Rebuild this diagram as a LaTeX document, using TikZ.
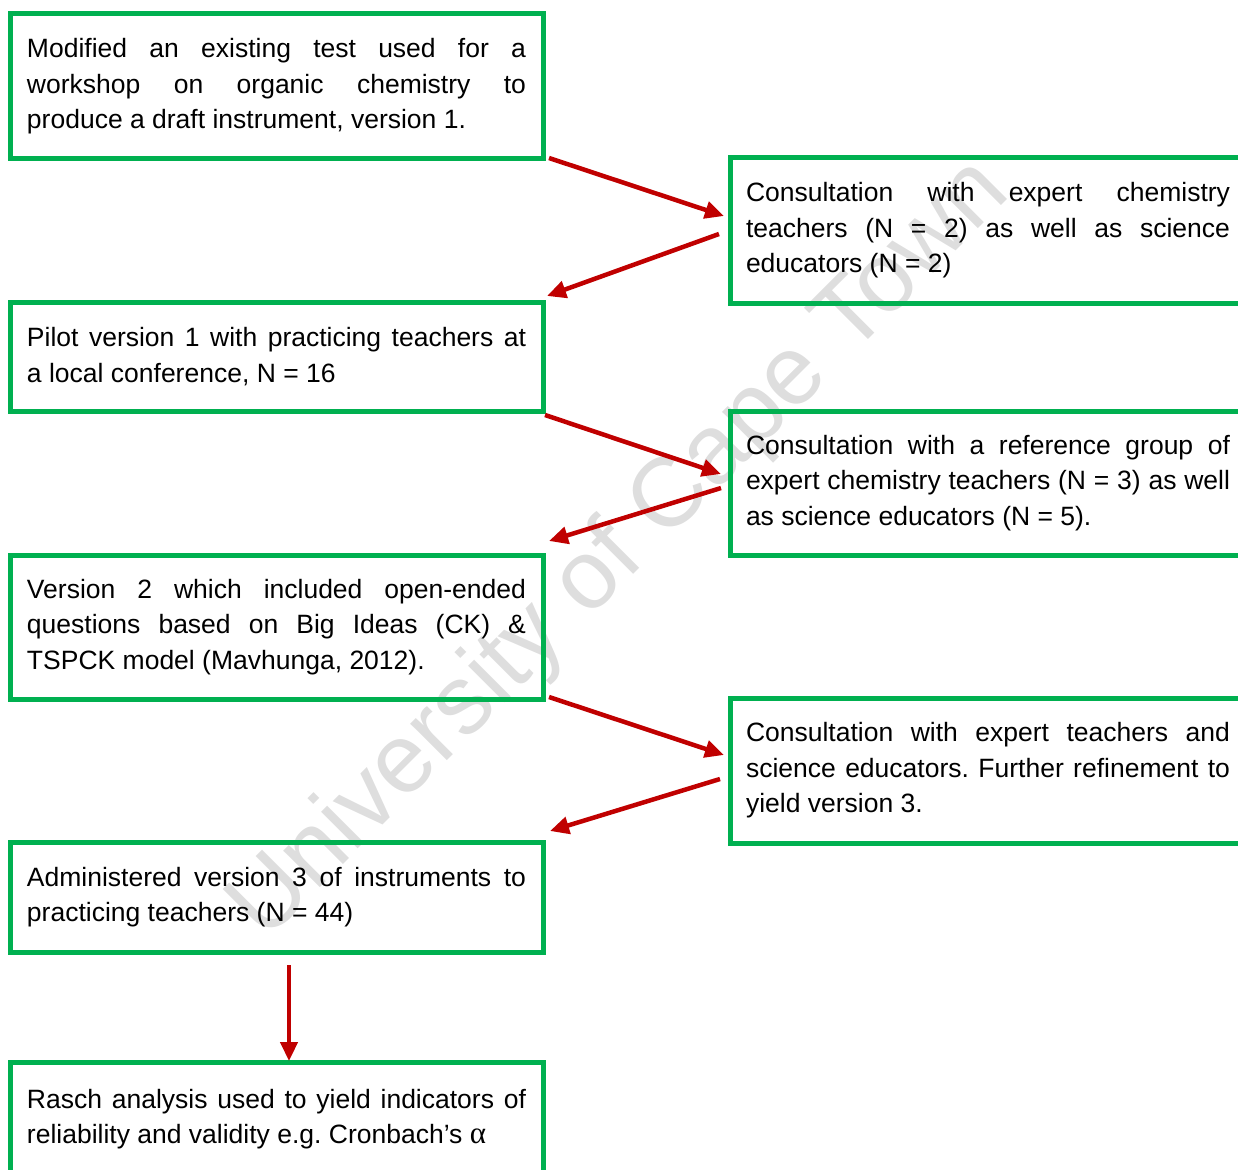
\documentclass[tikz,border=0pt]{standalone}
\usepackage{fontspec}
\setmainfont{Liberation Sans}
\newfontfamily\alphafont{Liberation Serif}
\usetikzlibrary{arrows.meta}

\definecolor{boxgreen}{RGB}{0,176,80}
\definecolor{arrowred}{RGB}{192,0,0}
\definecolor{markgray}{RGB}{222,222,222}

\newcommand\boxfont{\fontsize{26.5pt}{35.5pt}\selectfont}
\newcommand\markfont{\fontsize{98pt}{98pt}\selectfont}
\newcommand\alphasym{{\alphafont\fontsize{31pt}{35.5pt}\selectfont α}}

% justified text with forced line ends, no hyphenation
\tolerance=10000
\hbadness=10000
\hyphenpenalty=10000
\exhyphenpenalty=10000
\frenchspacing

\tikzset{
  box/.style={draw=boxgreen, line width=5pt, anchor=north west,
    inner xsep=17pt, inner ysep=0pt, outer sep=0pt,
    text width=499pt, align=justify, font=\boxfont},
  rbox/.style={box, inner xsep=16pt, text width=484pt},
  arr/.style={draw=arrowred, line width=4.5pt,
    -{Triangle[length=19pt,width=17pt]}},
  watermark/.style={text=markgray, font=\markfont, inner sep=0pt, rotate=45}
}

\begin{document}
\begin{tikzpicture}[x=1pt, y=-1pt]
\useasboundingbox (0,0) rectangle (1238,1169);
\clip (0,0) rectangle (1238,1169);

% background watermark
\node[watermark] (wm) at (621,551) {University of Cape Town};

% left column
\node[box, minimum height=145pt] (b1) at (10,14)
  {Modified an existing test used for a\linebreak workshop on organic chemistry to\linebreak produce a draft instrument, version 1.};
\node[box, minimum height=109pt] (b3) at (10,302)
  {Pilot version 1 with practicing teachers at\linebreak a local conference, N = 16};
\node[box, minimum height=144pt] (b5) at (10,555)
  {Version 2 which included open-ended\linebreak questions based on Big Ideas (CK) \&\linebreak TSPCK model (Mavhunga, 2012).};
\node[box, minimum height=110pt] (b7) at (10,842)
  {Administered version 3 of instruments to\linebreak practicing teachers (N = 44)};
\node[box, minimum height=114pt] (b8) at (10,1062)
  {Rasch analysis used to yield indicators of\linebreak reliability and validity e.g. Cronbach’s \alphasym};

% right column
\node[rbox, minimum height=145pt] (b2) at (730,158)
  {Consultation with expert chemistry\linebreak teachers (N = 2) as well as science\linebreak educators (N = 2)};
\node[rbox, minimum height=144pt] (b4) at (730,411)
  {Consultation with a reference group of\linebreak expert chemistry teachers (N = 3) as well\linebreak as science educators (N = 5).};
\node[rbox, minimum height=145pt] (b6) at (730,698)
  {Consultation with expert teachers and\linebreak science educators. Further refinement to\linebreak yield version 3.};

% connectors
\draw[arr] ([xshift=6pt,yshift=1pt]b1.south east) -- ([xshift=-6pt,yshift=14.5pt]b2.west);
\draw[arr] ([xshift=-11pt,yshift=-3.5pt]b2.west) -- ([xshift=4pt,yshift=6pt]b3.north east);
\draw[arr] ([xshift=2pt,yshift=-4pt]b3.south east) -- ([xshift=-9pt,yshift=9pt]b4.west);
\draw[arr] ([xshift=-9pt,yshift=-5pt]b4.west) -- ([xshift=6pt,yshift=14pt]b5.north east);
\draw[arr] ([xshift=6pt,yshift=2pt]b5.south east) -- ([xshift=-6pt,yshift=15.5pt]b6.west);
\draw[arr] ([xshift=-10pt,yshift=-8.5pt]b6.west) -- ([xshift=7pt,yshift=11pt]b7.north east);
\draw[arr] ([xshift=12.5pt,yshift=-13pt]b7.south) -- ([xshift=12.5pt,yshift=1pt]b8.north);
\end{tikzpicture}
\end{document}
